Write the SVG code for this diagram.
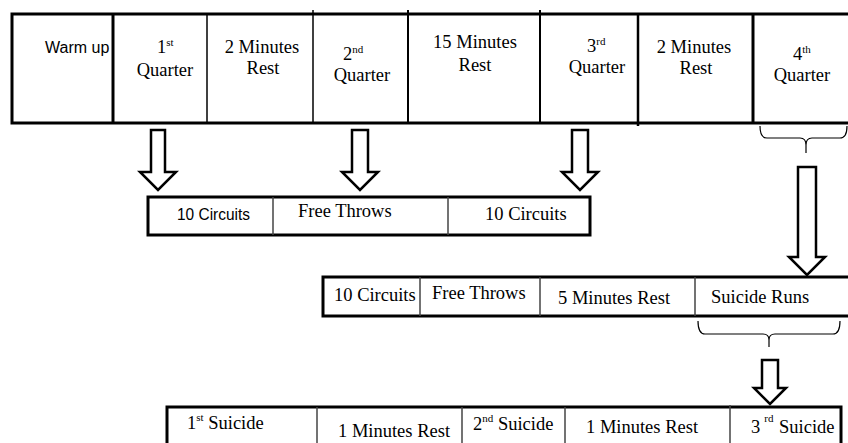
<svg xmlns="http://www.w3.org/2000/svg" width="848" height="443" viewBox="0 0 848 443">
<style>
.frame{fill:#fff;stroke:#000;stroke-width:3}
.div{stroke:#000;stroke-width:1.5}
.divg{stroke:#444;stroke-width:1.5}
.s{font-family:"Liberation Serif","Times New Roman",serif;font-size:18.5px;fill:#000}
.a{font-family:"Liberation Sans",Arial,sans-serif;fill:#000}
.sup{font-size:11px}
.arrow{fill:#fff;stroke:#000;stroke-width:2.5;stroke-linejoin:miter}
.brace{fill:none;stroke:#000;stroke-width:1.2}
</style>
<rect width="848" height="443" fill="#fff"/>

<g id="schedule">
  <rect class="frame" x="12" y="14" width="840" height="109"/>
  <line x1="113" y1="14" x2="113" y2="123" stroke="#000" stroke-width="3"/>
  <line class="div" x1="207" y1="14" x2="207" y2="123"/>
  <line class="div" x1="313" y1="10" x2="313" y2="123"/>
  <line x1="408" y1="10" x2="408" y2="123" stroke="#000" stroke-width="2"/>
  <line x1="540" y1="10" x2="540" y2="123" stroke="#000" stroke-width="2"/>
  <line x1="638" y1="14" x2="638" y2="126" stroke="#000" stroke-width="2.5"/>
  <line x1="753" y1="14" x2="753" y2="123" stroke="#000" stroke-width="3"/>
</g>
<g id="warmup"><text class="a" x="45" y="53" font-size="16">Warm up</text></g>
<g id="q1">
  <text class="s" x="157" y="53">1<tspan class="sup" dy="-7">st</tspan></text>
  <text class="s" x="165" y="76" text-anchor="middle">Quarter</text>
</g>
<g id="rest1">
  <text class="s" x="262" y="53" text-anchor="middle">2 Minutes</text>
  <text class="s" x="263" y="74" text-anchor="middle">Rest</text>
</g>
<g id="q2">
  <text class="s" x="343" y="60">2<tspan class="sup" dy="-7">nd</tspan></text>
  <text class="s" x="362" y="81" text-anchor="middle">Quarter</text>
</g>
<g id="rest15">
  <text class="s" x="475" y="48" text-anchor="middle">15 Minutes</text>
  <text class="s" x="475" y="71" text-anchor="middle">Rest</text>
</g>
<g id="q3">
  <text class="s" x="587" y="52">3<tspan class="sup" dy="-7">rd</tspan></text>
  <text class="s" x="597" y="73" text-anchor="middle">Quarter</text>
</g>
<g id="rest2">
  <text class="s" x="694" y="53" text-anchor="middle">2 Minutes</text>
  <text class="s" x="696" y="74" text-anchor="middle">Rest</text>
</g>
<g id="q4">
  <text class="s" x="793" y="60">4<tspan class="sup" dy="-7">th</tspan></text>
  <text class="s" x="802" y="81" text-anchor="middle">Quarter</text>
</g>

<g id="quarter-drill">
  <rect class="frame" x="148" y="197" width="442" height="38"/>
  <line class="divg" x1="273" y1="197" x2="273" y2="235"/>
  <line class="divg" x1="448" y1="197" x2="448" y2="235"/>
  <text class="a" x="177" y="220" font-size="17" textLength="73" lengthAdjust="spacingAndGlyphs">10 Circuits</text>
  <text class="s" x="298" y="217">Free Throws</text>
  <text class="s" x="485" y="220">10 Circuits</text>
</g>

<g id="fourth-quarter-drill">
  <rect class="frame" x="323" y="277" width="530" height="39"/>
  <line class="divg" x1="420" y1="277" x2="420" y2="316"/>
  <line class="divg" x1="540" y1="277" x2="540" y2="316"/>
  <line class="divg" x1="695" y1="277" x2="695" y2="316"/>
  <text class="s" x="334" y="301">10 Circuits</text>
  <text class="s" x="432" y="299">Free Throws</text>
  <text class="s" x="558" y="304">5 Minutes Rest</text>
  <text class="s" x="711" y="303">Suicide Runs</text>
</g>

<g id="suicide-runs">
  <rect class="frame" x="167" y="407" width="674" height="50"/>
  <line class="divg" x1="317" y1="407" x2="317" y2="443"/>
  <line class="divg" x1="462" y1="407" x2="462" y2="443"/>
  <line class="divg" x1="565" y1="407" x2="565" y2="443"/>
  <line class="divg" x1="730" y1="405" x2="730" y2="443"/>
  <text class="s" x="187" y="429">1<tspan class="sup" dy="-8">st</tspan><tspan dy="8"> Suicide</tspan></text>
  <text class="s" x="338" y="437">1 Minutes Rest</text>
  <text class="s" x="473" y="430">2<tspan class="sup" dy="-8">nd</tspan><tspan dy="8"> Suicide</tspan></text>
  <text class="s" x="586" y="433">1 Minutes Rest</text>
  <text class="s" x="751" y="433">3<tspan class="sup" dx="4" dy="-11">rd</tspan><tspan dy="11" dx="1"> Suicide</tspan></text>
</g>

<g id="connectors">
  <path class="arrow" d="M151,130 H165 V172 H176 L158,190 L140,172 H151 Z"/>
  <path class="arrow" d="M352,130 H368 V172 H378 L360,190 L342,172 H352 Z"/>
  <path class="arrow" d="M572,130 H588 V172 H598 L580,190 L562,172 H572 Z"/>
  <path class="brace" d="M760,126 Q760,138 767,138 L800,138 Q806,138 806,145 L806,153 M806,145 Q806,138 812,138 L840,138 Q847,138 847,126"/>
  <path class="arrow" d="M798,167 H816 V257 H825 L807,275 L789,257 H798 Z"/>
  <path class="brace" d="M698,321 Q698,334 705,334 L763,334 Q769,334 769,340 L769,347 M769,340 Q769,334 775,334 L833,334 Q840,334 840,321"/>
  <path class="arrow" d="M762,360 H778 V388 H786 L770,404 L754,388 H762 Z"/>
</g>
</svg>
